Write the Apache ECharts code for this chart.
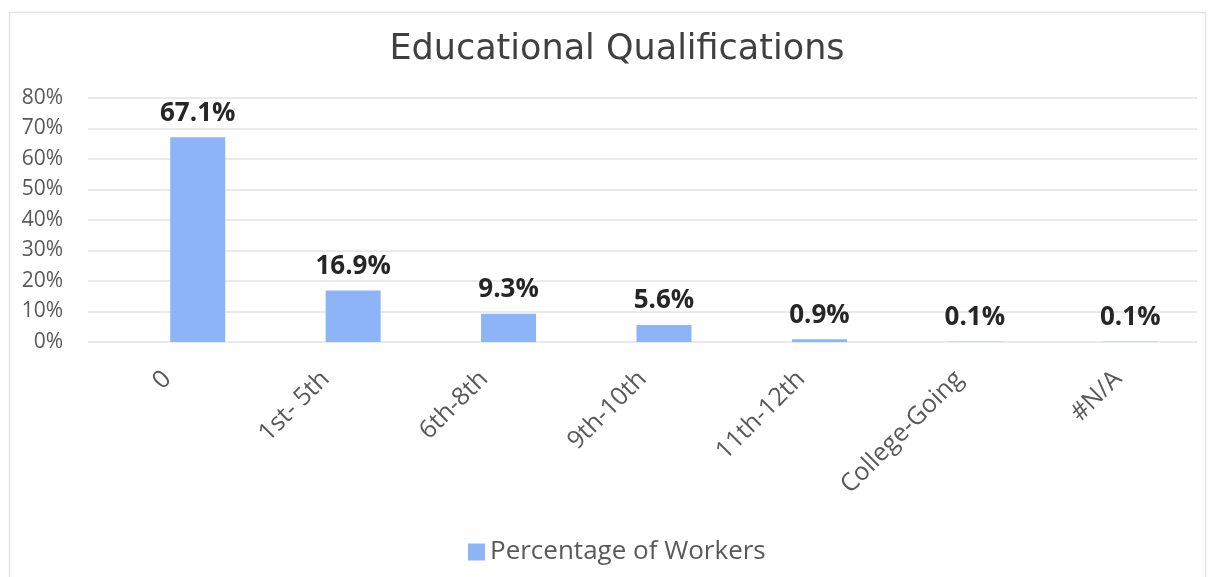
<!DOCTYPE html>
<html>
<head>
<meta charset="utf-8">
<title>Educational Qualifications</title>
<script src="https://cdn.jsdelivr.net/npm/echarts@6/dist/echarts.min.js"></script>
<style>
  html, body { margin: 0; padding: 0; background: #ffffff; }
  #chart { width: 1208px; height: 577px; }
</style>
</head>
<body>
<div id="chart"></div>
<script>
// Education level of workers, share in percent
const categories = ['0', '1st- 5th', '6th-8th', '9th-10th', '11th-12th', 'College-Going', '#N/A'];
const workerShare = [67.1, 16.9, 9.3, 5.6, 0.9, 0.1, 0.1];
const seriesName = 'Percentage of Workers';
const yTicks = { min: 0, max: 80, interval: 10 };

const FONT = '"Open Sans", "Noto Sans", sans-serif';
const TITLE_FONT = '"DejaVu Sans", "Open Sans", sans-serif';
const chart = echarts.init(document.getElementById('chart'), null, { renderer: 'canvas' });

chart.setOption({
  backgroundColor: '#ffffff',
  animation: false,
  textStyle: { fontFamily: FONT },
  title: {
    text: 'Educational Qualifications',
    left: 612,
    top: 27,
    textAlign: 'center',
    textStyle: { fontFamily: TITLE_FONT, fontSize: 35, fontWeight: 'normal', color: '#404040' }
  },
  graphic: [{
    type: 'rect',
    shape: { x: 9.5, y: 12.5, width: 1196, height: 600 },
    style: { fill: 'none', stroke: '#e4e4e4', lineWidth: 1.5 },
    silent: true,
    z: -1
  }],
  legend: {
    data: [seriesName],
    left: 463,
    top: 534,
    icon: 'rect',
    itemWidth: 17,
    itemHeight: 17,
    itemGap: 8,
    textStyle: { fontFamily: FONT, fontSize: 26, color: '#595959' }
  },
  grid: [
    // axis frame: tick labels and gridlines
    { left: 88, right: 11, top: 98, height: 244, containLabel: false },
    // bar band
    { left: 120, width: 1109, top: 98, height: 244, containLabel: false }
  ],
  xAxis: [
    {
      type: 'category',
      gridIndex: 0,
      data: categories,
      axisLine: { show: false },
      axisTick: { show: false },
      axisLabel: {
        rotate: 45,
        margin: 33,
        interval: 0,
        fontFamily: FONT,
        fontSize: 25,
        color: '#595959'
      }
    },
    {
      type: 'category',
      gridIndex: 1,
      data: categories,
      show: false
    }
  ],
  yAxis: [
    {
      type: 'value',
      gridIndex: 0,
      min: yTicks.min,
      max: yTicks.max,
      interval: yTicks.interval,
      axisLine: { show: false },
      axisTick: { show: false },
      axisLabel: {
        margin: 25,
        formatter: '{value}%',
        fontFamily: FONT,
        fontSize: 21,
        color: '#595959'
      },
      splitLine: { lineStyle: { color: '#e3e3e3', width: 1.5 } }
    },
    {
      type: 'value',
      gridIndex: 1,
      min: yTicks.min,
      max: yTicks.max,
      interval: yTicks.interval,
      show: false,
      splitLine: { show: false }
    }
  ],
  series: [{
    name: seriesName,
    type: 'bar',
    xAxisIndex: 1,
    yAxisIndex: 1,
    data: workerShare,
    barWidth: 55,
    itemStyle: { color: '#8db4f6' },
    label: {
      show: true,
      position: 'top',
      distance: 11,
      formatter: p => p.value.toFixed(1) + '%',
      fontFamily: FONT,
      fontSize: 26,
      fontWeight: 'bold',
      color: '#262626'
    }
  }]
});
</script>
</body>
</html>
